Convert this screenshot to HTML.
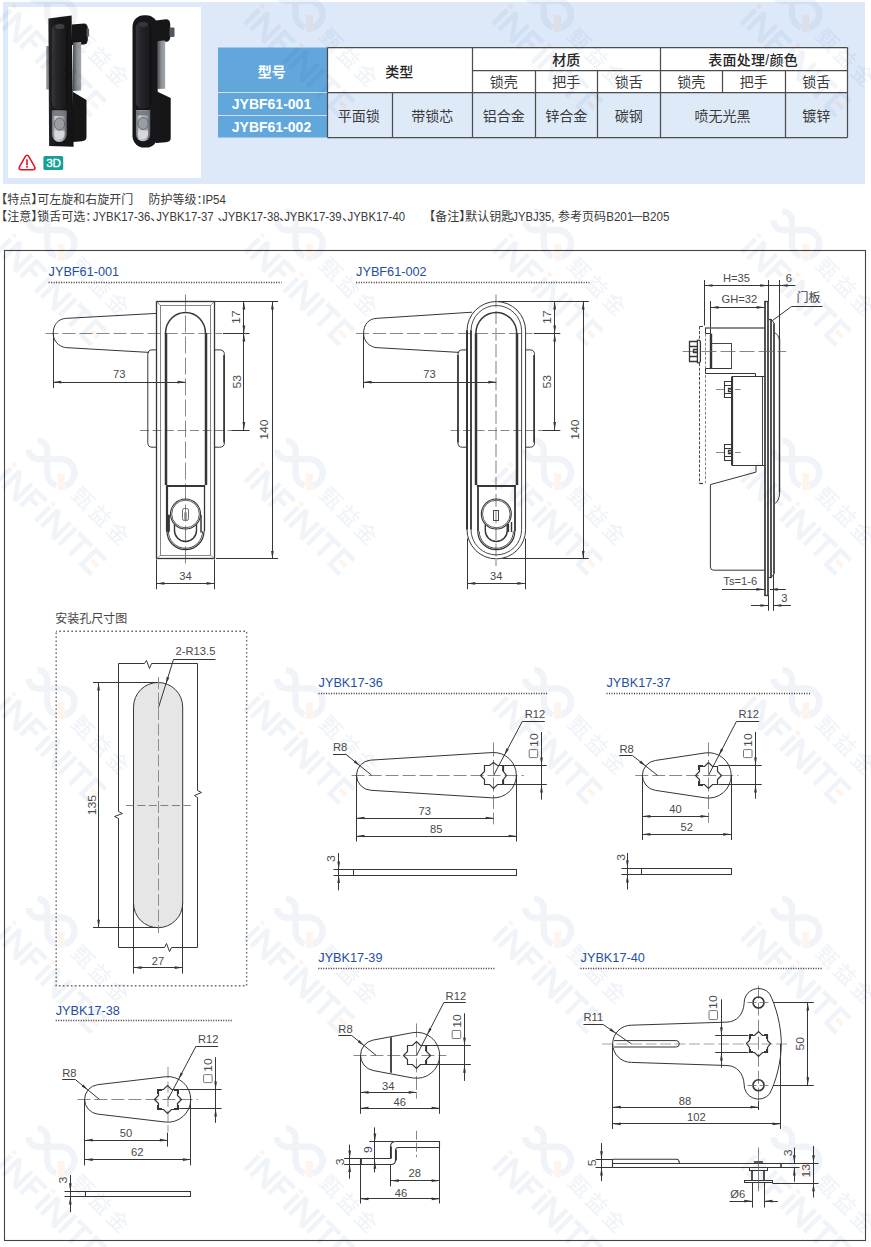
<!DOCTYPE html>
<html lang="zh"><head><meta charset="utf-8"><title>JYBF61</title>
<style>html,body{margin:0;padding:0;background:#fff}body{width:871px;height:1247px;overflow:hidden;font-family:"Liberation Sans","Noto Sans CJK SC",sans-serif}svg{display:block}svg text{font-family:"Liberation Sans","Noto Sans CJK SC",sans-serif}</style>
</head><body>
<svg width="871" height="1247" viewBox="0 0 871 1247">
<defs><filter id="bl" x="-5%" y="-5%" width="110%" height="110%"><feGaussianBlur stdDeviation="0.45"/></filter><linearGradient id="hd" x1="0" x2="1" y1="0" y2="0"><stop offset="0" stop-color="#37373c"/><stop offset="0.35" stop-color="#26262a"/><stop offset="1" stop-color="#161618"/></linearGradient><linearGradient id="bd" x1="0" x2="1" y1="0" y2="0"><stop offset="0" stop-color="#242428"/><stop offset="0.3" stop-color="#18181b"/><stop offset="1" stop-color="#111113"/></linearGradient><linearGradient id="sv" x1="0" x2="1" y1="0" y2="0"><stop offset="0" stop-color="#6b6f74"/><stop offset="0.25" stop-color="#c9ccd0"/><stop offset="0.7" stop-color="#a9adb2"/><stop offset="1" stop-color="#5c6066"/></linearGradient><linearGradient id="mt" x1="0" x2="1" y1="0" y2="0"><stop offset="0" stop-color="#4a4e52"/><stop offset="0.5" stop-color="#8d9196"/><stop offset="1" stop-color="#a4a8ac"/></linearGradient><g id="wm"><g transform="rotate(45)"><path d="M1.9 0V-20.2M10.34 0V-24L27.75 0V-24M35.66 0V-22.1H50.11M35.66 -12.5H46.95M56.97 0V-20.2M64.88 0V-24L82.29 0V-24M90.2 0V-24M95.48 -22.1H114.47M104.97 -22.1V0M133.98 -22.1H120.06V-1.9H133.98" fill="none" stroke="#6488c0" stroke-width="4.5" stroke-linejoin="miter" stroke-miterlimit="1.8"/><path d="M1.9 -22.8V-26.6M56.97 -22.8V-26.6M123.96 -12H132.93" fill="none" stroke="#f08a4b" stroke-width="4.5"/><text x="63.5" y="-41.8" font-size="21.5" font-weight="500" letter-spacing="3.2" fill="#6488c0" font-family="'Liberation Sans','Noto Sans CJK SC',sans-serif">甄益金</text></g><g transform="translate(65.5 -8.25)"><path d="M-23.2 -32.1A9.6 9.6 0 0 1 -13.6 -22.5V0A13.6 13.6 0 0 0 -4.6 12.8M-32.1 -23.2A9.6 9.6 0 0 0 -22.5 -13.6H0A13.6 13.6 0 0 1 3.7 13.1" fill="none" stroke="#6488c0" stroke-width="6.4"/><rect x="-3.2" y="0.5" width="6.9" height="16.6" fill="#f08a4b"/></g></g></defs>
<rect x="3" y="2" width="862" height="182" fill="#dde9f8"/>
<rect x="8" y="7" width="193" height="171" fill="#fff"/>
<g filter="url(#bl)">
<path d="M72 24.5L84 23.5Q87.5 23.5 87.8 28V40Q87.5 44 84 44.5L72 45Z" fill="#161618"/>
<rect x="86.5" y="28.5" width="2.6" height="8" fill="#5a6068"/>
<path d="M73 42.5L81.2 42V90.5L73 91Z" fill="url(#mt)"/>
<rect x="46.3" y="46" width="2.6" height="43.5" fill="#8a8d90"/>
<path d="M73 92L86.5 100V137Q86.5 141 82 141.2L73 142Z" fill="#141416"/>
<path d="M48.4 18.6L71.6 15.6L73.6 146.7L49.1 146Z" fill="url(#bd)"/>
<rect x="51.2" y="22.7" width="16.2" height="87.4" rx="8" fill="url(#hd)" stroke="#101012" stroke-width="0.7"/><ellipse cx="60" cy="26.5" rx="4.5" ry="2.6" fill="#4a4a4f" opacity="0.8"/>
<path d="M51.9 110.6H66.8V134.5A7.4 7.4 0 0 1 51.9 134.5Z" fill="url(#sv)"/><rect x="52.6" y="111" width="13.5" height="5" fill="#6e7276" opacity="0.85"/>
<ellipse cx="59.4" cy="124" rx="5.2" ry="6" fill="#9a9da1" stroke="#5a5d61" stroke-width="0.8"/>
<path d="M54.3 131H64.5V134.5A5.1 5.1 0 0 1 54.3 134.5Z" fill="#d5d8db"/>
<path d="M156 20.5L166 19.3Q170 19.5 170.2 24V37.5Q170 41.5 166 41.8L156 42Z" fill="#161618"/>
<rect x="169.5" y="27.5" width="5" height="9.5" rx="1" fill="#50565e"/>
<path d="M157.5 41L165.2 40.6V88.8L157.5 89Z" fill="url(#mt)"/>
<path d="M156 91L170.7 98V138Q170.7 142 166 142.2L156 143Z" fill="#141416"/>
<rect x="132.5" y="15.2" width="25.2" height="132.3" rx="11.5" fill="#19191c"/>
<rect x="135.2" y="20.7" width="15.7" height="88.8" rx="7.6" fill="url(#hd)" stroke="#0c0c0e" stroke-width="0.7"/><ellipse cx="143.5" cy="24.5" rx="4.5" ry="2.4" fill="#3c3c40" opacity="0.8"/>
<path d="M135.9 110H150.2V134.2A7.1 7.1 0 0 1 135.9 134.2Z" fill="url(#sv)"/><rect x="136.6" y="110.4" width="13" height="5" fill="#6e7276" opacity="0.85"/>
<ellipse cx="143" cy="123.5" rx="5.2" ry="6" fill="#9a9da1" stroke="#5a5d61" stroke-width="0.8"/>
<path d="M138 130.5H148V134.2A5 5 0 0 1 138 134.2Z" fill="#d5d8db"/>
</g>
<path d="M25.07 156.87Q27.05 153.4 29.03 156.87L34.42 166.33Q36.4 169.8 32.4 169.8L21.7 169.8Q17.7 169.8 19.68 166.33Z" fill="#fff" stroke="#e60f1e" stroke-width="1.5"/>
<rect x="26.2" y="159.2" width="1.6" height="6" rx="0.5" fill="#e60f1e"/><circle cx="27" cy="166.7" r="0.95" fill="#e60f1e"/>
<rect x="43.4" y="156" width="19.8" height="13.9" rx="1.6" fill="#17a097"/>
<text x="53.4" y="167.3" font-size="11.7" text-anchor="middle" fill="#fff" stroke="#fff" stroke-width="0.35" letter-spacing="-0.2">3D</text>
<rect x="218" y="47.5" width="109.5" height="90" fill="#61a7dc"/>
<rect x="327.5" y="47.5" width="520" height="45" fill="#fff"/>
<rect x="327.5" y="92.5" width="520" height="45" fill="#dfeaf9"/>
<line x1="218" y1="92.5" x2="327.5" y2="92.5" stroke="#cfe2f4" stroke-width="1.2"/>
<line x1="218" y1="115.5" x2="327.5" y2="115.5" stroke="#cfe2f4" stroke-width="1.2"/>
<line x1="327.5" y1="47.5" x2="847.5" y2="47.5" stroke="#4d4d4d" stroke-width="1.25"/>
<line x1="327.5" y1="137.5" x2="847.5" y2="137.5" stroke="#4d4d4d" stroke-width="1.25"/>
<line x1="327.5" y1="92.5" x2="847.5" y2="92.5" stroke="#4d4d4d" stroke-width="1.25"/>
<line x1="472.5" y1="70.5" x2="847.5" y2="70.5" stroke="#4d4d4d" stroke-width="1.25"/>
<line x1="327.5" y1="47.5" x2="327.5" y2="137.5" stroke="#4d4d4d" stroke-width="1.25"/>
<line x1="847.5" y1="47.5" x2="847.5" y2="137.5" stroke="#4d4d4d" stroke-width="1.25"/>
<line x1="472.5" y1="47.5" x2="472.5" y2="137.5" stroke="#4d4d4d" stroke-width="1.25"/>
<line x1="660.5" y1="47.5" x2="660.5" y2="137.5" stroke="#4d4d4d" stroke-width="1.25"/>
<line x1="392.5" y1="92.5" x2="392.5" y2="137.5" stroke="#4d4d4d" stroke-width="1.25"/>
<line x1="535.5" y1="70" x2="535.5" y2="92.5" stroke="#4d4d4d" stroke-width="1.25"/>
<line x1="597.5" y1="70" x2="597.5" y2="92.5" stroke="#4d4d4d" stroke-width="1.25"/>
<line x1="722.5" y1="70" x2="722.5" y2="92.5" stroke="#4d4d4d" stroke-width="1.25"/>
<line x1="785.5" y1="70" x2="785.5" y2="92.5" stroke="#4d4d4d" stroke-width="1.25"/>
<line x1="535.5" y1="92.5" x2="535.5" y2="137.5" stroke="#4d4d4d" stroke-width="1.25"/>
<line x1="597.5" y1="92.5" x2="597.5" y2="137.5" stroke="#4d4d4d" stroke-width="1.25"/>
<line x1="785.5" y1="92.5" x2="785.5" y2="137.5" stroke="#4d4d4d" stroke-width="1.25"/>
<text x="257.8" y="76.5" font-size="14" font-weight="bold" fill="#fff">型号</text>
<text x="271.5" y="109.01" font-size="14" text-anchor="middle" fill="#fff" font-weight="bold">JYBF61-001</text>
<text x="271.5" y="132.21" font-size="14" text-anchor="middle" fill="#fff" font-weight="bold">JYBF61-002</text>
<text x="385.2" y="76.5" font-size="14" font-weight="500" fill="#262626">类型</text>
<text x="552.2" y="65.2" font-size="14" font-weight="500" fill="#262626">材质</text>
<text x="708.27" y="65.2" font-size="14" font-weight="500" fill="#262626" textLength="89.5">表面处理/颜色</text>
<text x="489.7" y="86.9" font-size="14" fill="#3a3a3a">锁壳</text>
<text x="552.2" y="86.9" font-size="14" fill="#3a3a3a">把手</text>
<text x="614.7" y="86.9" font-size="14" fill="#3a3a3a">锁舌</text>
<text x="677.2" y="86.9" font-size="14" fill="#3a3a3a">锁壳</text>
<text x="739.7" y="86.9" font-size="14" fill="#3a3a3a">把手</text>
<text x="802.2" y="86.9" font-size="14" fill="#3a3a3a">锁舌</text>
<text x="337.7" y="121.4" font-size="14" fill="#3a3a3a">平面锁</text>
<text x="411.2" y="121.4" font-size="14" fill="#3a3a3a">带锁芯</text>
<text x="482.7" y="121.4" font-size="14" fill="#3a3a3a">铝合金</text>
<text x="545.2" y="121.4" font-size="14" fill="#3a3a3a">锌合金</text>
<text x="614.7" y="121.4" font-size="14" fill="#3a3a3a">碳钢</text>
<text x="694.5" y="121.4" font-size="14" fill="#3a3a3a">喷无光黑</text>
<text x="802.2" y="121.4" font-size="14" fill="#3a3a3a">镀锌</text>
<text y="204.2" font-size="12" fill="#3a3a3a"><tspan x="-4.8">【特点】</tspan><tspan x="37.2">可左旋和右旋开门</tspan></text>
<text x="148.39" y="204.2" font-size="12" fill="#3a3a3a">防护等级：</text>
<text x="202.27" y="204.2" font-size="12" fill="#3a3a3a" textLength="23.6" lengthAdjust="spacingAndGlyphs">IP54</text>
<text y="221" font-size="12" fill="#3a3a3a"><tspan x="-4.8">【注意】</tspan><tspan x="37.2">锁舌可选：</tspan></text>
<text x="92.85" y="221" font-size="12" fill="#3a3a3a" textLength="57.5" lengthAdjust="spacingAndGlyphs">JYBK17-36</text>
<text x="156.15" y="221" font-size="12" fill="#3a3a3a" textLength="57.5" lengthAdjust="spacingAndGlyphs">JYBK17-37</text>
<text x="222.05" y="221" font-size="12" fill="#3a3a3a" textLength="57.5" lengthAdjust="spacingAndGlyphs">JYBK17-38</text>
<text x="284.15" y="221" font-size="12" fill="#3a3a3a" textLength="57.5" lengthAdjust="spacingAndGlyphs">JYBK17-39</text>
<text x="347.55" y="221" font-size="12" fill="#3a3a3a" textLength="57.5" lengthAdjust="spacingAndGlyphs">JYBK17-40</text>
<text x="150.35" y="221" font-size="12" fill="#3a3a3a">、</text>
<text x="217.55" y="221" font-size="12" fill="#3a3a3a">、</text>
<text x="278.95" y="221" font-size="12" fill="#3a3a3a">、</text>
<text x="341.95" y="221" font-size="12" fill="#3a3a3a">、</text>
<text y="221" font-size="12" fill="#3a3a3a"><tspan x="423.19">【备注】</tspan><tspan x="465.19">默认钥匙</tspan></text>
<text x="512.35" y="221" font-size="12" fill="#3a3a3a" textLength="42" lengthAdjust="spacingAndGlyphs">JYBJ35,</text>
<text x="558.09" y="221" font-size="12" fill="#3a3a3a">参考页码</text>
<text x="606.17" y="221" font-size="12" fill="#3a3a3a" textLength="27.1" lengthAdjust="spacingAndGlyphs">B201</text>
<rect x="631.8" y="216.1" width="10.7" height="0.9" fill="#3a3a3a"/>
<text x="642.27" y="221" font-size="12" fill="#3a3a3a" textLength="27.1" lengthAdjust="spacingAndGlyphs">B205</text>
<rect x="4.5" y="250.5" width="861" height="990" fill="none" stroke="#444" stroke-width="1.1"/>
<text x="48.6" y="276.15" font-size="12.7" text-anchor="start" fill="#1f4fa0">JYBF61-001</text>
<line x1="48.6" y1="282.5" x2="281.7" y2="282.5" stroke="#3a3a3a" stroke-width="1.3" stroke-dasharray="1.05 1.45"/>
<line x1="45.5" y1="333.5" x2="222" y2="333.5" stroke="#6a6a6a" stroke-width="0.8" stroke-dasharray="13 4"/>
<line x1="185.5" y1="294.5" x2="185.5" y2="566" stroke="#6a6a6a" stroke-width="0.8" stroke-dasharray="17 4"/>
<line x1="140" y1="430.5" x2="231.5" y2="430.5" stroke="#6a6a6a" stroke-width="0.8" stroke-dasharray="9 3.5"/>
<path d="M156.4 349.9H152Q147.8 349.9 147.8 354.6V442.6Q147.8 447.2 152 447.2H156.4" fill="none" stroke="#363636" stroke-width="1"/>
<path d="M214.5 349.9H219.7Q224.4 349.9 224.4 354.6V442.6Q224.4 447.2 219.7 447.2H214.5" fill="none" stroke="#363636" stroke-width="1"/>
<line x1="224" y1="355" x2="224" y2="442.5" stroke="#363636" stroke-width="1.6"/>
<rect x="156.5" y="301.5" width="58" height="257" fill="none" stroke="#363636" stroke-width="1.3"/>
<rect x="160.5" y="305.5" width="50" height="250" fill="none" stroke="#7a7a7a" stroke-width="0.9"/>
<line x1="156.4" y1="301.5" x2="160.5" y2="305.3" stroke="#7a7a7a" stroke-width="0.8"/>
<line x1="156.4" y1="558.9" x2="160.5" y2="555.1" stroke="#7a7a7a" stroke-width="0.8"/>
<line x1="214.6" y1="301.5" x2="210.5" y2="305.3" stroke="#7a7a7a" stroke-width="0.8"/>
<line x1="214.6" y1="558.9" x2="210.5" y2="555.1" stroke="#7a7a7a" stroke-width="0.8"/>
<path d="M165.5 333.4A20 21 0 0 1 205.5 333.4" fill="none" stroke="#363636" stroke-width="1.5"/>
<line x1="166" y1="333.2" x2="166" y2="485.1" stroke="#363636" stroke-width="2.5"/>
<line x1="206" y1="333.2" x2="206" y2="485.1" stroke="#363636" stroke-width="2.5"/>
<line x1="166.1" y1="486" x2="205.1" y2="486" stroke="#363636" stroke-width="2"/>
<line x1="167" y1="486" x2="167" y2="531.2" stroke="#363636" stroke-width="2.2"/>
<line x1="204.5" y1="486" x2="204.5" y2="531.2" stroke="#363636" stroke-width="1.3"/>
<line x1="168" y1="514.7" x2="168" y2="531.8" stroke="#363636" stroke-width="3.8"/>
<line x1="201" y1="515" x2="201" y2="532.5" stroke="#363636" stroke-width="1.5"/>
<path d="M167 531.2A18.5 18.5 0 0 0 204 531.2" fill="none" stroke="#363636" stroke-width="1.2"/>
<path d="M168.4 531.2A17.1 17.1 0 0 0 202.6 531.2" fill="none" stroke="#363636" stroke-width="0.9"/>
<path d="M174.5 524.4V530.5A11 11 0 0 0 196.5 530.5V524.4" fill="none" stroke="#363636" stroke-width="1.4"/>
<circle cx="185.5" cy="514" r="15" fill="none" stroke="#363636" stroke-width="1.1"/>
<circle cx="185.5" cy="514" r="13.8" fill="none" stroke="#363636" stroke-width="0.8"/>
<rect x="182.5" y="508.5" width="6" height="12" fill="none" stroke="#5a5a5a" stroke-width="0.9" rx="1.8"/>
<rect x="184.5" y="512.5" width="2" height="8" fill="none" stroke="#7a7a7a" stroke-width="0.7" rx="0.5"/>
<path d="M156.4 313.4 L65.7 318.4 C58.7 318.9 53.2 324 53.2 333.4 C53.2 341 58.7 346.6 65.7 347.6 L149 352.4" fill="none" stroke="#363636" stroke-width="1"/>
<line x1="53.5" y1="333.4" x2="53.5" y2="388" stroke="#363636" stroke-width="1"/>
<line x1="53.2" y1="382.5" x2="185.5" y2="382.5" stroke="#363636" stroke-width="1"/>
<path d="M53.2 382.1L61.2 380.75L61.2 383.45Z" fill="#363636"/>
<path d="M185.5 382.1L177.5 383.45L177.5 380.75Z" fill="#363636"/>
<text x="119.2" y="378.41" font-size="11.2" text-anchor="middle" fill="#4a4a4a">73</text>
<line x1="223" y1="333.5" x2="249.5" y2="333.5" stroke="#363636" stroke-width="1"/>
<line x1="231.5" y1="430.5" x2="249.5" y2="430.5" stroke="#363636" stroke-width="1"/>
<line x1="243.5" y1="301.5" x2="243.5" y2="333.4" stroke="#363636" stroke-width="1"/>
<path d="M243.9 301.5L245.25 309.5L242.55 309.5Z" fill="#363636"/>
<path d="M243.9 333.4L242.55 325.4L245.25 325.4Z" fill="#363636"/>
<text x="0" y="4.01" font-size="11.2" text-anchor="middle" fill="#4a4a4a" transform="translate(235.7 317.3) rotate(-90) scale(1.09 1.045)">17</text>
<line x1="243.5" y1="333.4" x2="243.5" y2="430.1" stroke="#363636" stroke-width="1"/>
<path d="M243.9 333.4L245.25 341.4L242.55 341.4Z" fill="#363636"/>
<path d="M243.9 430.1L242.55 422.1L245.25 422.1Z" fill="#363636"/>
<text x="0" y="4.01" font-size="11.2" text-anchor="middle" fill="#4a4a4a" transform="translate(236.4 381.7) rotate(-90) scale(1.09 1.045)">53</text>
<line x1="214.6" y1="301.5" x2="278" y2="301.5" stroke="#363636" stroke-width="1"/>
<line x1="216" y1="558.5" x2="278" y2="558.5" stroke="#363636" stroke-width="1"/>
<line x1="272.5" y1="301.5" x2="272.5" y2="558.9" stroke="#363636" stroke-width="1"/>
<path d="M272.4 301.5L273.75 309.5L271.05 309.5Z" fill="#363636"/>
<path d="M272.4 558.9L271.05 550.9L273.75 550.9Z" fill="#363636"/>
<text x="0" y="4.01" font-size="11.2" text-anchor="middle" fill="#4a4a4a" transform="translate(263.9 429.6) rotate(-90) scale(1.09 1.045)">140</text>
<line x1="156.5" y1="559.5" x2="156.5" y2="589.3" stroke="#363636" stroke-width="1"/>
<line x1="214.5" y1="559.5" x2="214.5" y2="589.3" stroke="#363636" stroke-width="1"/>
<line x1="156.4" y1="583.5" x2="214.6" y2="583.5" stroke="#363636" stroke-width="1"/>
<path d="M156.4 583.4L164.4 582.05L164.4 584.75Z" fill="#363636"/>
<path d="M214.6 583.4L206.6 584.75L206.6 582.05Z" fill="#363636"/>
<text x="185.5" y="579.71" font-size="11.2" text-anchor="middle" fill="#4a4a4a">34</text>
<text x="356.1" y="276.15" font-size="12.7" text-anchor="start" fill="#1f4fa0">JYBF61-002</text>
<line x1="356.1" y1="282.5" x2="589.5" y2="282.5" stroke="#3a3a3a" stroke-width="1.3" stroke-dasharray="1.05 1.45"/>
<line x1="356" y1="333.5" x2="532.5" y2="333.5" stroke="#6a6a6a" stroke-width="0.8" stroke-dasharray="13 4"/>
<line x1="496" y1="294.5" x2="496" y2="566" stroke="#aaaaaa" stroke-width="1.5" stroke-dasharray="13 3.6"/>
<line x1="450.5" y1="430.5" x2="542" y2="430.5" stroke="#6a6a6a" stroke-width="0.8" stroke-dasharray="9 3.5"/>
<path d="M467 349.9H462.3Q457.9 349.9 457.9 354.6V442.6Q457.9 447.2 462.3 447.2H467" fill="none" stroke="#363636" stroke-width="1"/>
<line x1="458" y1="355" x2="458" y2="442.5" stroke="#363636" stroke-width="1.6"/>
<path d="M525.6 349.9H530.3Q534.5 349.9 534.5 354.6V442.6Q534.5 447.2 530.3 447.2H525.6" fill="none" stroke="#363636" stroke-width="1"/>
<line x1="534" y1="355" x2="534" y2="442.5" stroke="#363636" stroke-width="1.6"/>
<path d="M467 529.6V330.8A29.3 29.3 0 0 1 525.6 330.8V529.6A29.3 29.3 0 0 1 467 529.6Z" fill="none" stroke="#363636" stroke-width="1"/>
<path d="M471 529.6V330.8A25.3 25.3 0 0 1 521.6 330.8V529.6A25.3 25.3 0 0 1 471 529.6Z" fill="none" stroke="#363636" stroke-width="0.9"/>
<line x1="467" y1="330.2" x2="467" y2="529.6" stroke="#363636" stroke-width="2"/>
<line x1="471" y1="330.2" x2="471" y2="529.6" stroke="#363636" stroke-width="1.7"/>
<path d="M475.9 333.4A20.4 21 0 0 1 516.7 333.4" fill="none" stroke="#363636" stroke-width="1.5"/>
<line x1="476" y1="333.2" x2="476" y2="485.1" stroke="#363636" stroke-width="2.5"/>
<line x1="517" y1="333.2" x2="517" y2="485.1" stroke="#363636" stroke-width="2.5"/>
<line x1="476.9" y1="486" x2="515.9" y2="486" stroke="#363636" stroke-width="2"/>
<line x1="478" y1="486" x2="478" y2="531.2" stroke="#363636" stroke-width="1.8"/>
<line x1="515" y1="486" x2="515" y2="531.2" stroke="#363636" stroke-width="1.8"/>
<line x1="508" y1="524" x2="508" y2="532" stroke="#363636" stroke-width="2.2"/>
<line x1="511.5" y1="522" x2="511.5" y2="532" stroke="#363636" stroke-width="1.4"/>
<path d="M477.8 531.2A18.5 18.5 0 0 0 514.8 531.2" fill="none" stroke="#363636" stroke-width="1.2"/>
<path d="M479.2 531.2A17.1 17.1 0 0 0 513.4 531.2" fill="none" stroke="#363636" stroke-width="0.9"/>
<path d="M485.3 524.4V530.5A11 11 0 0 0 507.3 530.5V524.4" fill="none" stroke="#363636" stroke-width="1.4"/>
<circle cx="496.3" cy="514" r="15" fill="none" stroke="#363636" stroke-width="1.1"/>
<circle cx="496.3" cy="514" r="13.8" fill="none" stroke="#363636" stroke-width="0.8"/>
<rect x="493.5" y="510.5" width="5" height="10" fill="none" stroke="#4a4a4a" stroke-width="1"/>
<path d="M472.3 312.2 L376.1 318.4 C369.1 318.9 363.6 324 363.6 333.4 C363.6 341 369.1 346.6 376.1 347.6 L459.1 352.4" fill="none" stroke="#363636" stroke-width="1"/>
<line x1="363.5" y1="333.4" x2="363.5" y2="388" stroke="#363636" stroke-width="1"/>
<line x1="363.6" y1="382.5" x2="496.3" y2="382.5" stroke="#363636" stroke-width="1"/>
<path d="M363.6 382.1L371.6 380.75L371.6 383.45Z" fill="#363636"/>
<path d="M496.3 382.1L488.3 383.45L488.3 380.75Z" fill="#363636"/>
<text x="429.6" y="378.41" font-size="11.2" text-anchor="middle" fill="#4a4a4a">73</text>
<line x1="533.8" y1="333.5" x2="560.3" y2="333.5" stroke="#363636" stroke-width="1"/>
<line x1="542.3" y1="430.5" x2="560.3" y2="430.5" stroke="#363636" stroke-width="1"/>
<line x1="554.5" y1="301.5" x2="554.5" y2="333.4" stroke="#363636" stroke-width="1"/>
<path d="M554.7 301.5L556.05 309.5L553.35 309.5Z" fill="#363636"/>
<path d="M554.7 333.4L553.35 325.4L556.05 325.4Z" fill="#363636"/>
<text x="0" y="4.01" font-size="11.2" text-anchor="middle" fill="#4a4a4a" transform="translate(546.5 317.3) rotate(-90) scale(1.09 1.045)">17</text>
<line x1="554.5" y1="333.4" x2="554.5" y2="430.1" stroke="#363636" stroke-width="1"/>
<path d="M554.7 333.4L556.05 341.4L553.35 341.4Z" fill="#363636"/>
<path d="M554.7 430.1L553.35 422.1L556.05 422.1Z" fill="#363636"/>
<text x="0" y="4.01" font-size="11.2" text-anchor="middle" fill="#4a4a4a" transform="translate(547.2 381.7) rotate(-90) scale(1.09 1.045)">53</text>
<line x1="498.3" y1="301.5" x2="588.8" y2="301.5" stroke="#363636" stroke-width="1"/>
<line x1="502.3" y1="558.5" x2="588.8" y2="558.5" stroke="#363636" stroke-width="1"/>
<line x1="583.5" y1="301.5" x2="583.5" y2="558.9" stroke="#363636" stroke-width="1"/>
<path d="M583.2 301.5L584.55 309.5L581.85 309.5Z" fill="#363636"/>
<path d="M583.2 558.9L581.85 550.9L584.55 550.9Z" fill="#363636"/>
<text x="0" y="4.01" font-size="11.2" text-anchor="middle" fill="#4a4a4a" transform="translate(574.7 429.6) rotate(-90) scale(1.09 1.045)">140</text>
<line x1="467.5" y1="538.5" x2="467.5" y2="589.3" stroke="#363636" stroke-width="1"/>
<line x1="525.5" y1="538.5" x2="525.5" y2="589.3" stroke="#363636" stroke-width="1"/>
<line x1="467.2" y1="583.5" x2="525.4" y2="583.5" stroke="#363636" stroke-width="1"/>
<path d="M467.2 583.4L475.2 582.05L475.2 584.75Z" fill="#363636"/>
<path d="M525.4 583.4L517.4 584.75L517.4 582.05Z" fill="#363636"/>
<text x="496.3" y="579.71" font-size="11.2" text-anchor="middle" fill="#4a4a4a">34</text>
<text x="736.5" y="281.51" font-size="11.2" text-anchor="middle" fill="#4a4a4a">H=35</text>
<line x1="704.5" y1="280" x2="704.5" y2="325.4" stroke="#363636" stroke-width="1"/>
<line x1="768.5" y1="280" x2="768.5" y2="301" stroke="#363636" stroke-width="1"/>
<line x1="704.5" y1="285.5" x2="795.4" y2="285.5" stroke="#363636" stroke-width="1"/>
<path d="M704.5 285.5L712.5 284.15L712.5 286.85Z" fill="#363636"/>
<path d="M768.2 285.5L760.2 286.85L760.2 284.15Z" fill="#363636"/>
<path d="M768.2 285.5L768.2 284.15L768.2 286.85Z" fill="#363636"/>
<text x="788.9" y="281.51" font-size="11.2" text-anchor="middle" fill="#4a4a4a">6</text>
<line x1="779.5" y1="280" x2="779.5" y2="339" stroke="#363636" stroke-width="1"/>
<path d="M779.6 285.5L787.6 284.15L787.6 286.85Z" fill="#363636"/>
<text x="739.4" y="303.41" font-size="11.2" text-anchor="middle" fill="#4a4a4a">GH=32</text>
<line x1="710.5" y1="301" x2="710.5" y2="333.6" stroke="#363636" stroke-width="1"/>
<line x1="710.5" y1="307.5" x2="764.6" y2="307.5" stroke="#363636" stroke-width="1"/>
<path d="M710.5 307.4L718.5 306.05L718.5 308.75Z" fill="#363636"/>
<path d="M764.6 307.4L756.6 308.75L756.6 306.05Z" fill="#363636"/>
<text x="796.5" y="302.2" font-size="12" fill="#444">门板</text>
<path d="M822.5 306.5H791.5L772.5 320.5" fill="none" stroke="#363636" stroke-width="1"/>
<line x1="699.5" y1="326.4" x2="699.5" y2="483.3" stroke="#363636" stroke-width="0.9" stroke-dasharray="3 1.6"/>
<line x1="705.5" y1="329" x2="705.5" y2="483.3" stroke="#777" stroke-width="0.9" stroke-dasharray="3 1.6"/>
<line x1="699.3" y1="326.5" x2="703" y2="326.5" stroke="#363636" stroke-width="0.9"/>
<line x1="699.3" y1="483.5" x2="703" y2="483.5" stroke="#363636" stroke-width="1.2"/>
<line x1="705.6" y1="328" x2="764.6" y2="328" stroke="#666" stroke-width="1.5"/>
<path d="M705.5 327.5V333.5H710.5" fill="none" stroke="#363636" stroke-width="1"/>
<line x1="711" y1="333.6" x2="711" y2="368.7" stroke="#363636" stroke-width="2.4"/>
<rect x="711.5" y="343.5" width="20" height="25" fill="none" stroke="#363636" stroke-width="0.9"/>
<path d="M731.5 368.5H705.5V373.5H755.5V376.5" fill="none" stroke="#363636" stroke-width="1"/>
<path d="M764.5 376.5H732.5V465.5H764.5" fill="none" stroke="#363636" stroke-width="1.2"/>
<line x1="732" y1="376.6" x2="732" y2="465.2" stroke="#363636" stroke-width="2"/>
<line x1="762.5" y1="376.6" x2="762.5" y2="465.2" stroke="#363636" stroke-width="0.9"/>
<path d="M756 465.2V472.1L710.4 484.6V567A3.2 3.2 0 0 0 713.6 570.2H764.3" fill="none" stroke="#363636" stroke-width="1"/>
<line x1="765" y1="301.4" x2="765" y2="595.3" stroke="#363636" stroke-width="1.7"/>
<line x1="768" y1="301.4" x2="768" y2="595.3" stroke="#363636" stroke-width="1.7"/>
<line x1="764.15" y1="301.5" x2="768.9" y2="301.5" stroke="#363636" stroke-width="1.3"/>
<line x1="764.15" y1="595.5" x2="768.9" y2="595.5" stroke="#363636" stroke-width="1.3"/>
<line x1="771" y1="319.3" x2="771" y2="577.2" stroke="#363636" stroke-width="1.7"/>
<line x1="769" y1="319.5" x2="771.75" y2="319.5" stroke="#363636" stroke-width="1.2"/>
<line x1="768.9" y1="577.5" x2="771.75" y2="577.5" stroke="#363636" stroke-width="1.2"/>
<line x1="774" y1="323.5" x2="774" y2="573.8" stroke="#363636" stroke-width="1.7"/>
<line x1="771.5" y1="319.5" x2="774.4" y2="323.7" stroke="#363636" stroke-width="1"/>
<line x1="774.4" y1="573.6" x2="771.5" y2="577" stroke="#363636" stroke-width="1"/>
<line x1="779.5" y1="338.5" x2="779.5" y2="492.5" stroke="#363636" stroke-width="1.45"/>
<path d="M774.5 332.4Q778.6 334.5 779.4 339.5" fill="none" stroke="#363636" stroke-width="0.9"/>
<path d="M779.6 492.5Q779.6 500 775 503.7" fill="none" stroke="#363636" stroke-width="1"/>
<line x1="682.5" y1="351.5" x2="786.2" y2="351.5" stroke="#6a6a6a" stroke-width="0.8" stroke-dasharray="15 4"/>
<path d="M697.5 341.5H689.5V361.5H697.5M689.5 346.5H697.5M689.5 356.5H697.5" fill="none" stroke="#363636" stroke-width="1.3"/>
<path d="M697.4 340.3Q700.6 339.3 700.4 343V360Q700.6 363.6 697.4 362.6Z" fill="#fff" stroke="#363636" stroke-width="1.3"/>
<path d="M697.5 349.5H693.5V352.5H697.5" fill="none" stroke="#363636" stroke-width="1.3"/>
<path d="M731.5 381.5H724.5V397.5H731.5M724.5 385.5H731.5M724.5 393.5H731.5" fill="none" stroke="#363636" stroke-width="1.1"/>
<path d="M731.5 388.5H728.5V391.5H731.5" fill="none" stroke="#363636" stroke-width="1.3"/>
<line x1="716" y1="389.5" x2="740.7" y2="389.5" stroke="#666" stroke-width="0.8" stroke-dasharray="8 4 3 4"/>
<path d="M731.5 444.5H724.5V460.5H731.5M724.5 448.5H731.5M724.5 456.5H731.5" fill="none" stroke="#363636" stroke-width="1.1"/>
<path d="M731.5 450.5H728.5V453.5H731.5" fill="none" stroke="#363636" stroke-width="1.3"/>
<line x1="716" y1="452.5" x2="740.7" y2="452.5" stroke="#666" stroke-width="0.8" stroke-dasharray="8 4 3 4"/>
<text x="740.3" y="585.31" font-size="11.2" text-anchor="middle" fill="#4a4a4a">Ts=1-6</text>
<line x1="722" y1="589.5" x2="764.6" y2="589.5" stroke="#363636" stroke-width="1"/>
<path d="M764.3 589.4L756.3 590.75L756.3 588.05Z" fill="#363636"/>
<line x1="770" y1="589.5" x2="785.9" y2="589.5" stroke="#363636" stroke-width="1"/>
<path d="M769.8 589.4L777.8 588.05L777.8 590.75Z" fill="#363636"/>
<text x="784.3" y="601.61" font-size="11.2" text-anchor="middle" fill="#4a4a4a">3</text>
<line x1="768.5" y1="595" x2="768.5" y2="610.8" stroke="#363636" stroke-width="1"/>
<line x1="773.5" y1="574" x2="773.5" y2="610.8" stroke="#363636" stroke-width="1"/>
<line x1="751" y1="605.5" x2="768.4" y2="605.5" stroke="#363636" stroke-width="1"/>
<path d="M768.4 605.5L760.4 606.85L760.4 604.15Z" fill="#363636"/>
<line x1="773.4" y1="605.5" x2="790.9" y2="605.5" stroke="#363636" stroke-width="1"/>
<path d="M773.4 605.5L781.4 604.15L781.4 606.85Z" fill="#363636"/>
<text x="55.2" y="622.9" font-size="12" fill="#444">安装孔尺寸图</text>
<rect x="56.2" y="631.2" width="190.4" height="354.6" fill="none" stroke="#6e6e6e" stroke-width="1.5" stroke-dasharray="1.7 2.3" stroke-dashoffset="0.9"/>
<path d="M133.5 707.1A24.6 24.6 0 0 1 182.7 707.1V903.1A24.6 24.6 0 0 1 133.5 903.1Z" fill="#e6e6e6" stroke="#363636" stroke-width="1"/>
<path d="M118.5 663.5H144.5L146.5 660.5L149.5 668.5L151.5 663.5H197.5V790.5L201.5 792.5L194.5 795.5L197.5 797.5V947.5H171.5L169.5 951.5L166.5 943.5L164.5 947.5H118.5V818.5L114.5 816.5L122.5 813.5L118.5 811.5Z" fill="none" stroke="#363636" stroke-width="1"/>
<line x1="133.5" y1="903" x2="133.5" y2="973.6" stroke="#363636" stroke-width="1"/>
<line x1="182.5" y1="903" x2="182.5" y2="973.6" stroke="#363636" stroke-width="1"/>
<line x1="158.5" y1="677" x2="158.5" y2="933" stroke="#8e8e8e" stroke-width="1" stroke-dasharray="12 3.5"/>
<line x1="125.9" y1="805.5" x2="190.8" y2="805.5" stroke="#666" stroke-width="0.8" stroke-dasharray="8 3.5"/>
<line x1="93" y1="682.5" x2="158.1" y2="682.5" stroke="#363636" stroke-width="1"/>
<line x1="93" y1="927.5" x2="158.1" y2="927.5" stroke="#363636" stroke-width="1"/>
<line x1="98.5" y1="682.5" x2="98.5" y2="927.7" stroke="#363636" stroke-width="1"/>
<path d="M98.6 682.5L99.95 690.5L97.25 690.5Z" fill="#363636"/>
<path d="M98.6 927.7L97.25 919.7L99.95 919.7Z" fill="#363636"/>
<text x="0" y="4.01" font-size="11.2" text-anchor="middle" fill="#4a4a4a" transform="translate(91.3 805.2) rotate(-90) scale(1.09 1.045)">135</text>
<line x1="133.5" y1="967.5" x2="182.7" y2="967.5" stroke="#363636" stroke-width="1"/>
<path d="M133.5 967.6L141.5 966.25L141.5 968.95Z" fill="#363636"/>
<path d="M182.7 967.6L174.7 968.95L174.7 966.25Z" fill="#363636"/>
<text x="158" y="965.01" font-size="11.2" text-anchor="middle" fill="#4a4a4a">27</text>
<text x="175.6" y="655.31" font-size="11.2" text-anchor="start" fill="#4a4a4a">2-R13.5</text>
<path d="M215.5 659.5H173.5L158.5 707.5" fill="none" stroke="#363636" stroke-width="1"/>
<path d="M165.85 683.92L166.74 676.85L169.31 677.69Z" fill="#363636"/>
<text x="318.6" y="686.85" font-size="12.7" text-anchor="start" fill="#1f4fa0">JYBK17-36</text>
<line x1="318.6" y1="693.5" x2="547.7" y2="693.5" stroke="#3a3a3a" stroke-width="1.3" stroke-dasharray="1.05 1.45"/>
<line x1="351.6" y1="775.5" x2="523.8" y2="775.5" stroke="#6a6a6a" stroke-width="0.8" stroke-dasharray="13 4"/>
<line x1="493.5" y1="742.5" x2="493.5" y2="824.3" stroke="#6a6a6a" stroke-width="0.8" stroke-dasharray="14 3.5"/>
<path d="M370.66 760.13L492.29 752.54A22.7 22.7 0 1 1 492.29 797.86L370.66 790.27A15.1 15.1 0 0 1 370.66 760.13Z" fill="none" stroke="#363636" stroke-width="1"/>
<path d="M506.5 775.5L503.5 779.5L503.5 784.5L497.5 784.5L493.5 788.5L489.5 784.5L484.5 784.5L484.5 779.5L480.5 775.5L484.5 771.5L484.5 765.5L489.5 765.5L493.5 762.5L497.5 765.5L503.5 765.5L503.5 771.5Z" fill="none" stroke="#363636" stroke-width="1.2" stroke-linejoin="miter"/>
<line x1="502.9" y1="765.5" x2="546.8" y2="765.5" stroke="#363636" stroke-width="1"/>
<line x1="502.9" y1="784.5" x2="546.8" y2="784.5" stroke="#363636" stroke-width="1"/>
<line x1="503" y1="765.4" x2="503" y2="771.2" stroke="#363636" stroke-width="1.8"/>
<line x1="503" y1="779.6" x2="503" y2="784.4" stroke="#363636" stroke-width="1.8"/>
<line x1="541.5" y1="732" x2="541.5" y2="799.7" stroke="#363636" stroke-width="1"/>
<path d="M541.5 765.4L540.15 757.4L542.85 757.4Z" fill="#363636"/>
<path d="M541.5 784.4L542.85 792.4L540.15 792.4Z" fill="#363636"/>
<g transform="translate(533.4 746) rotate(-90)"><rect x="-11.6" y="-4.2" width="8" height="8.5" rx="0.8" fill="none" stroke="#6a6a6a" stroke-width="0.9"/><text x="0" y="4.01" font-size="11.2" text-anchor="middle" fill="#4a4a4a" transform="translate(5.9 0) scale(1.09 1.045)">10</text></g>
<text x="524.7" y="718.41" font-size="11.2" text-anchor="start" fill="#4a4a4a">R12</text>
<line x1="522.4" y1="721.5" x2="544.8" y2="721.5" stroke="#363636" stroke-width="1"/>
<line x1="522.4" y1="721.3" x2="493.7" y2="775.2" stroke="#363636" stroke-width="1"/>
<path d="M504.37 755.16L506.47 748.35L508.85 749.62Z" fill="#363636"/>
<text x="333" y="751.41" font-size="11.2" text-anchor="start" fill="#4a4a4a">R8</text>
<line x1="333" y1="754.5" x2="345.9" y2="754.5" stroke="#363636" stroke-width="1"/>
<line x1="345.9" y1="754.3" x2="371.6" y2="775.2" stroke="#363636" stroke-width="1"/>
<path d="M359.88 765.67L353.6 762.3L355.31 760.21Z" fill="#363636"/>
<line x1="356.5" y1="775.2" x2="356.5" y2="841.5" stroke="#363636" stroke-width="1"/>
<line x1="516.5" y1="775.2" x2="516.5" y2="841.5" stroke="#363636" stroke-width="1"/>
<line x1="356.5" y1="818.5" x2="493.7" y2="818.5" stroke="#363636" stroke-width="1"/>
<path d="M356.5 818L364.5 816.65L364.5 819.35Z" fill="#363636"/>
<path d="M493.7 818L485.7 819.35L485.7 816.65Z" fill="#363636"/>
<text x="424.8" y="814.51" font-size="11.2" text-anchor="middle" fill="#4a4a4a">73</text>
<line x1="356.5" y1="836.5" x2="516.6" y2="836.5" stroke="#363636" stroke-width="1"/>
<path d="M356.5 836L364.5 834.65L364.5 837.35Z" fill="#363636"/>
<path d="M516.6 836L508.6 837.35L508.6 834.65Z" fill="#363636"/>
<text x="436.3" y="832.61" font-size="11.2" text-anchor="middle" fill="#4a4a4a">85</text>
<rect x="353.5" y="869.5" width="163" height="6" fill="none" stroke="#363636" stroke-width="1"/>
<line x1="333.5" y1="869.5" x2="353" y2="869.5" stroke="#363636" stroke-width="1"/>
<line x1="333.5" y1="875.5" x2="353" y2="875.5" stroke="#363636" stroke-width="1"/>
<line x1="338.5" y1="853" x2="338.5" y2="890.3" stroke="#363636" stroke-width="1"/>
<path d="M338.7 869.4L337.35 861.4L340.05 861.4Z" fill="#363636"/>
<path d="M338.7 875.1L340.05 883.1L337.35 883.1Z" fill="#363636"/>
<text x="0" y="4.01" font-size="11.2" text-anchor="middle" fill="#4a4a4a" transform="translate(330.7 858.7) rotate(-90) scale(1.09 1.045)">3</text>
<text x="606.5" y="686.85" font-size="12.7" text-anchor="start" fill="#1f4fa0">JYBK17-37</text>
<line x1="606.5" y1="693.5" x2="810.3" y2="693.5" stroke="#3a3a3a" stroke-width="1.3" stroke-dasharray="1.05 1.45"/>
<line x1="635.2" y1="775.5" x2="738.5" y2="775.5" stroke="#6a6a6a" stroke-width="0.8" stroke-dasharray="13 4"/>
<line x1="708.5" y1="742.5" x2="708.5" y2="822.9" stroke="#6a6a6a" stroke-width="0.8" stroke-dasharray="14 3.5"/>
<path d="M655.25 760.47L705.12 752.95A22.7 22.7 0 1 1 705.12 797.85L655.25 790.33A15.1 15.1 0 0 1 655.25 760.47Z" fill="none" stroke="#363636" stroke-width="1"/>
<path d="M721.5 775.5L717.5 779.5L717.5 784.5L712.5 784.5L708.5 788.5L704.5 784.5L699.5 784.5L699.5 779.5L695.5 775.5L699.5 771.5L699.5 766.5L704.5 766.5L708.5 762.5L712.5 766.5L717.5 766.5L717.5 771.5Z" fill="none" stroke="#363636" stroke-width="1.2" stroke-linejoin="miter"/>
<path d="M703 766H699V770M703 785H699V781" fill="none" stroke="#363636" stroke-width="2" stroke-linejoin="miter"/>
<line x1="718.4" y1="765.5" x2="761.7" y2="765.5" stroke="#363636" stroke-width="1"/>
<line x1="718.4" y1="784.5" x2="761.7" y2="784.5" stroke="#363636" stroke-width="1"/>
<line x1="755.5" y1="732" x2="755.5" y2="798.7" stroke="#363636" stroke-width="1"/>
<path d="M755.5 765.4L754.15 757.4L756.85 757.4Z" fill="#363636"/>
<path d="M755.5 784.5L756.85 792.5L754.15 792.5Z" fill="#363636"/>
<g transform="translate(747.7 746) rotate(-90)"><rect x="-11.6" y="-4.2" width="8" height="8.5" rx="0.8" fill="none" stroke="#6a6a6a" stroke-width="0.9"/><text x="0" y="4.01" font-size="11.2" text-anchor="middle" fill="#4a4a4a" transform="translate(5.9 0) scale(1.09 1.045)">10</text></g>
<text x="738.5" y="718.41" font-size="11.2" text-anchor="start" fill="#4a4a4a">R12</text>
<line x1="736.5" y1="721.5" x2="759.2" y2="721.5" stroke="#363636" stroke-width="1"/>
<line x1="736.5" y1="721.3" x2="708.5" y2="775.4" stroke="#363636" stroke-width="1"/>
<path d="M718.93 755.24L720.95 748.4L723.35 749.64Z" fill="#363636"/>
<text x="619.4" y="752.81" font-size="11.2" text-anchor="start" fill="#4a4a4a">R8</text>
<line x1="619.4" y1="755.5" x2="632.3" y2="755.5" stroke="#363636" stroke-width="1"/>
<line x1="632.3" y1="755.4" x2="657.5" y2="775.4" stroke="#363636" stroke-width="1"/>
<path d="M645.67 766.01L639.35 762.72L641.03 760.6Z" fill="#363636"/>
<line x1="642.5" y1="775.4" x2="642.5" y2="840" stroke="#363636" stroke-width="1"/>
<line x1="731.5" y1="775.4" x2="731.5" y2="840" stroke="#363636" stroke-width="1"/>
<line x1="642.4" y1="816.5" x2="708.5" y2="816.5" stroke="#363636" stroke-width="1"/>
<path d="M642.4 816.3L650.4 814.95L650.4 817.65Z" fill="#363636"/>
<path d="M708.5 816.3L700.5 817.65L700.5 814.95Z" fill="#363636"/>
<text x="675.4" y="812.61" font-size="11.2" text-anchor="middle" fill="#4a4a4a">40</text>
<line x1="642.4" y1="834.5" x2="731.2" y2="834.5" stroke="#363636" stroke-width="1"/>
<path d="M642.4 834.3L650.4 832.95L650.4 835.65Z" fill="#363636"/>
<path d="M731.2 834.3L723.2 835.65L723.2 832.95Z" fill="#363636"/>
<text x="686.8" y="831.21" font-size="11.2" text-anchor="middle" fill="#4a4a4a">52</text>
<rect x="641.5" y="868.5" width="90" height="6" fill="none" stroke="#363636" stroke-width="1"/>
<line x1="621.4" y1="868.5" x2="641.5" y2="868.5" stroke="#363636" stroke-width="1"/>
<line x1="621.4" y1="874.5" x2="641.5" y2="874.5" stroke="#363636" stroke-width="1"/>
<line x1="627.5" y1="853" x2="627.5" y2="889.5" stroke="#363636" stroke-width="1"/>
<path d="M627.4 868.2L626.05 860.2L628.75 860.2Z" fill="#363636"/>
<path d="M627.4 874.5L628.75 882.5L626.05 882.5Z" fill="#363636"/>
<text x="0" y="4.01" font-size="11.2" text-anchor="middle" fill="#4a4a4a" transform="translate(620.3 857.3) rotate(-90) scale(1.09 1.045)">3</text>
<text x="55.7" y="1015.15" font-size="12.7" text-anchor="start" fill="#1f4fa0">JYBK17-38</text>
<line x1="55.7" y1="1020.5" x2="232" y2="1020.5" stroke="#3a3a3a" stroke-width="1.3" stroke-dasharray="1.05 1.45"/>
<line x1="77.4" y1="1099.5" x2="197.9" y2="1099.5" stroke="#6a6a6a" stroke-width="0.8" stroke-dasharray="13 4"/>
<line x1="168" y1="1067" x2="168" y2="1131.6" stroke="#b8b8b8" stroke-width="1.5" stroke-dasharray="11 3.5"/>
<line x1="167.5" y1="1132.6" x2="167.5" y2="1146.6" stroke="#363636" stroke-width="1"/>
<path d="M97.67 1084.7L165.24 1076.76A22.8 22.8 0 1 1 165.24 1122.04L97.67 1114.1A14.8 14.8 0 0 1 97.67 1084.7Z" fill="none" stroke="#363636" stroke-width="1"/>
<path d="M181.5 1099.5L177.5 1103.5L177.5 1109.5L171.5 1109.5L167.5 1113.5L163.5 1109.5L158.5 1109.5L158.5 1103.5L154.5 1099.5L158.5 1095.5L158.5 1089.5L163.5 1089.5L167.5 1085.5L171.5 1089.5L177.5 1089.5L177.5 1095.5Z" fill="none" stroke="#363636" stroke-width="1.2" stroke-linejoin="miter"/>
<path d="M162 1090H158V1094M162 1109H158V1105M174 1090H178V1094M174 1109H178V1105" fill="none" stroke="#363636" stroke-width="2" stroke-linejoin="miter"/>
<line x1="179.3" y1="1089.5" x2="221.6" y2="1089.5" stroke="#363636" stroke-width="1"/>
<line x1="179.3" y1="1108.5" x2="221.6" y2="1108.5" stroke="#363636" stroke-width="1"/>
<line x1="215.5" y1="1057.2" x2="215.5" y2="1122.8" stroke="#363636" stroke-width="1"/>
<path d="M215.6 1089.4L214.25 1081.4L216.95 1081.4Z" fill="#363636"/>
<path d="M215.6 1108.6L216.95 1116.6L214.25 1116.6Z" fill="#363636"/>
<g transform="translate(207.8 1071) rotate(-90)"><rect x="-11.6" y="-4.2" width="8" height="8.5" rx="0.8" fill="none" stroke="#6a6a6a" stroke-width="0.9"/><text x="0" y="4.01" font-size="11.2" text-anchor="middle" fill="#4a4a4a" transform="translate(5.9 0) scale(1.09 1.045)">10</text></g>
<text x="197.9" y="1042.61" font-size="11.2" text-anchor="start" fill="#4a4a4a">R12</text>
<line x1="196.1" y1="1046.5" x2="218.1" y2="1046.5" stroke="#363636" stroke-width="1"/>
<line x1="196.1" y1="1046" x2="167.9" y2="1099.4" stroke="#363636" stroke-width="1"/>
<path d="M178.55 1079.24L180.62 1072.42L183.01 1073.68Z" fill="#363636"/>
<text x="62.2" y="1077.31" font-size="11.2" text-anchor="start" fill="#4a4a4a">R8</text>
<line x1="62.2" y1="1079.5" x2="75.4" y2="1079.5" stroke="#363636" stroke-width="1"/>
<line x1="75.4" y1="1079.6" x2="99.4" y2="1099.4" stroke="#363636" stroke-width="1"/>
<path d="M87.98 1089.98L81.72 1086.57L83.44 1084.49Z" fill="#363636"/>
<line x1="84.5" y1="1099.4" x2="84.5" y2="1165.4" stroke="#363636" stroke-width="1"/>
<line x1="190.5" y1="1099.4" x2="190.5" y2="1165.4" stroke="#363636" stroke-width="1"/>
<line x1="84.7" y1="1140.5" x2="167.9" y2="1140.5" stroke="#363636" stroke-width="1"/>
<path d="M84.7 1140.2L92.7 1138.85L92.7 1141.55Z" fill="#363636"/>
<path d="M167.9 1140.2L159.9 1141.55L159.9 1138.85Z" fill="#363636"/>
<text x="125.9" y="1136.61" font-size="11.2" text-anchor="middle" fill="#4a4a4a">50</text>
<line x1="84.7" y1="1159.5" x2="190.9" y2="1159.5" stroke="#363636" stroke-width="1"/>
<path d="M84.7 1159.6L92.7 1158.25L92.7 1160.95Z" fill="#363636"/>
<path d="M190.9 1159.6L182.9 1160.95L182.9 1158.25Z" fill="#363636"/>
<text x="137.2" y="1156.01" font-size="11.2" text-anchor="middle" fill="#4a4a4a">62</text>
<rect x="85.5" y="1191.5" width="105" height="5" fill="none" stroke="#363636" stroke-width="1"/>
<line x1="64.5" y1="1191.5" x2="85" y2="1191.5" stroke="#363636" stroke-width="1"/>
<line x1="64.5" y1="1196.5" x2="85" y2="1196.5" stroke="#363636" stroke-width="1"/>
<line x1="70.5" y1="1175" x2="70.5" y2="1212.2" stroke="#363636" stroke-width="1"/>
<path d="M70.3 1191.2L68.95 1183.2L71.65 1183.2Z" fill="#363636"/>
<path d="M70.3 1196.6L71.65 1204.6L68.95 1204.6Z" fill="#363636"/>
<text x="0" y="4.01" font-size="11.2" text-anchor="middle" fill="#4a4a4a" transform="translate(62.7 1180) rotate(-90) scale(1.09 1.045)">3</text>
<text x="318.3" y="962.25" font-size="12.7" text-anchor="start" fill="#1f4fa0">JYBK17-39</text>
<line x1="318.3" y1="968.5" x2="494.4" y2="968.5" stroke="#3a3a3a" stroke-width="1.3" stroke-dasharray="1.05 1.45"/>
<line x1="353.4" y1="1055.5" x2="446.4" y2="1055.5" stroke="#6a6a6a" stroke-width="0.8" stroke-dasharray="13 4"/>
<line x1="416.5" y1="1023.4" x2="416.5" y2="1098.6" stroke="#6a6a6a" stroke-width="0.8" stroke-dasharray="14 3.5"/>
<path d="M373.14 1040.07L412.46 1032.69A23 23 0 1 1 412.46 1077.91L373.14 1070.53A15.5 15.5 0 0 1 373.14 1040.07Z" fill="none" stroke="#363636" stroke-width="1"/>
<path d="M430.5 1055.5L426.5 1059.5L426.5 1064.5L420.5 1064.5L416.5 1068.5L412.5 1064.5L407.5 1064.5L407.5 1059.5L403.5 1055.5L407.5 1051.5L407.5 1045.5L412.5 1045.5L416.5 1041.5L420.5 1045.5L426.5 1045.5L426.5 1051.5Z" fill="none" stroke="#363636" stroke-width="1.2" stroke-linejoin="miter"/>
<line x1="391" y1="1037.3" x2="391" y2="1072.7" stroke="#363636" stroke-width="1.8"/>
<line x1="426.2" y1="1045.5" x2="470.9" y2="1045.5" stroke="#363636" stroke-width="1"/>
<line x1="426.2" y1="1064.5" x2="470.9" y2="1064.5" stroke="#363636" stroke-width="1"/>
<line x1="426" y1="1045.4" x2="426" y2="1051.2" stroke="#363636" stroke-width="1.8"/>
<line x1="426" y1="1059.9" x2="426" y2="1064.7" stroke="#363636" stroke-width="1.8"/>
<line x1="464.5" y1="1013.3" x2="464.5" y2="1080.9" stroke="#363636" stroke-width="1"/>
<path d="M464.5 1045.4L463.15 1037.4L465.85 1037.4Z" fill="#363636"/>
<path d="M464.5 1064.7L465.85 1072.7L463.15 1072.7Z" fill="#363636"/>
<g transform="translate(456.4 1026.9) rotate(-90)"><rect x="-11.6" y="-4.2" width="8" height="8.5" rx="0.8" fill="none" stroke="#6a6a6a" stroke-width="0.9"/><text x="0" y="4.01" font-size="11.2" text-anchor="middle" fill="#4a4a4a" transform="translate(5.9 0) scale(1.09 1.045)">10</text></g>
<text x="445.6" y="1000.11" font-size="11.2" text-anchor="start" fill="#4a4a4a">R12</text>
<line x1="443.9" y1="1002.5" x2="465.8" y2="1002.5" stroke="#363636" stroke-width="1"/>
<line x1="443.9" y1="1002.4" x2="416.7" y2="1055.3" stroke="#363636" stroke-width="1"/>
<path d="M427.22 1034.85L429.22 1028L431.62 1029.24Z" fill="#363636"/>
<text x="338.3" y="1033.21" font-size="11.2" text-anchor="start" fill="#4a4a4a">R8</text>
<line x1="338.3" y1="1035.5" x2="351.7" y2="1035.5" stroke="#363636" stroke-width="1"/>
<line x1="351.7" y1="1035.5" x2="376" y2="1055.3" stroke="#363636" stroke-width="1"/>
<path d="M363.98 1045.51L357.7 1042.13L359.41 1040.04Z" fill="#363636"/>
<line x1="360.5" y1="1055.3" x2="360.5" y2="1113.8" stroke="#363636" stroke-width="1"/>
<line x1="439.5" y1="1055.3" x2="439.5" y2="1113.8" stroke="#363636" stroke-width="1"/>
<line x1="360.5" y1="1092.5" x2="416.7" y2="1092.5" stroke="#363636" stroke-width="1"/>
<path d="M360.5 1092.3L368.5 1090.95L368.5 1093.65Z" fill="#363636"/>
<path d="M416.7 1092.3L408.7 1093.65L408.7 1090.95Z" fill="#363636"/>
<text x="388.3" y="1090.01" font-size="11.2" text-anchor="middle" fill="#4a4a4a">34</text>
<line x1="360.5" y1="1108.5" x2="439.6" y2="1108.5" stroke="#363636" stroke-width="1"/>
<path d="M360.5 1108L368.5 1106.65L368.5 1109.35Z" fill="#363636"/>
<path d="M439.6 1108L431.6 1109.35L431.6 1106.65Z" fill="#363636"/>
<text x="399.7" y="1106.21" font-size="11.2" text-anchor="middle" fill="#4a4a4a">46</text>
<path d="M439.5 1141.5H396Q390.5 1141.5 390.5 1147V1158.5H360.5V1164.5H391Q395.5 1164.5 395.5 1160V1150.5Q395.5 1147.5 398.5 1147.5H439.5Z" fill="none" stroke="#363636" stroke-width="1.1"/>
<line x1="391" y1="1146.5" x2="391" y2="1158.5" stroke="#363636" stroke-width="1.8"/>
<line x1="396" y1="1150" x2="396" y2="1160.5" stroke="#363636" stroke-width="1.8"/>
<line x1="361" y1="1158.5" x2="361" y2="1164.5" stroke="#363636" stroke-width="1.7"/>
<line x1="416.5" y1="1130.7" x2="416.5" y2="1157.2" stroke="#6a6a6a" stroke-width="0.8" stroke-dasharray="9 3"/>
<line x1="369.4" y1="1141.5" x2="394" y2="1141.5" stroke="#363636" stroke-width="1"/>
<line x1="374.5" y1="1127.4" x2="374.5" y2="1172.4" stroke="#363636" stroke-width="1"/>
<path d="M374.9 1141.5L373.55 1133.5L376.25 1133.5Z" fill="#363636"/>
<path d="M374.9 1160.8L376.25 1168.8L373.55 1168.8Z" fill="#363636"/>
<text x="0" y="4.01" font-size="11.2" text-anchor="middle" fill="#4a4a4a" transform="translate(367.6 1149.6) rotate(-90) scale(1.09 1.045)">9</text>
<line x1="344.1" y1="1158.5" x2="360.5" y2="1158.5" stroke="#363636" stroke-width="1"/>
<line x1="344.1" y1="1164.5" x2="360.5" y2="1164.5" stroke="#363636" stroke-width="1"/>
<line x1="349.5" y1="1144.6" x2="349.5" y2="1178.7" stroke="#363636" stroke-width="1"/>
<path d="M349.7 1158.5L348.35 1150.5L351.05 1150.5Z" fill="#363636"/>
<path d="M349.7 1164L351.05 1172L348.35 1172Z" fill="#363636"/>
<text x="0" y="4.01" font-size="11.2" text-anchor="middle" fill="#4a4a4a" transform="translate(339.8 1161.8) rotate(-90) scale(1.09 1.045)">3</text>
<line x1="390.5" y1="1164" x2="390.5" y2="1186.3" stroke="#363636" stroke-width="1"/>
<line x1="360.5" y1="1164" x2="360.5" y2="1203.5" stroke="#363636" stroke-width="1"/>
<line x1="439.5" y1="1147" x2="439.5" y2="1203.5" stroke="#363636" stroke-width="1"/>
<line x1="390.8" y1="1180.5" x2="439.6" y2="1180.5" stroke="#363636" stroke-width="1"/>
<path d="M390.8 1180.7L398.8 1179.35L398.8 1182.05Z" fill="#363636"/>
<path d="M439.6 1180.7L431.6 1182.05L431.6 1179.35Z" fill="#363636"/>
<text x="414.8" y="1176.91" font-size="11.2" text-anchor="middle" fill="#4a4a4a">28</text>
<line x1="360.5" y1="1198.5" x2="439.6" y2="1198.5" stroke="#363636" stroke-width="1"/>
<path d="M360.5 1198.9L368.5 1197.55L368.5 1200.25Z" fill="#363636"/>
<path d="M439.6 1198.9L431.6 1200.25L431.6 1197.55Z" fill="#363636"/>
<text x="400.9" y="1196.61" font-size="11.2" text-anchor="middle" fill="#4a4a4a">46</text>
<text x="580.6" y="961.65" font-size="12.7" text-anchor="start" fill="#1f4fa0">JYBK17-40</text>
<line x1="580.6" y1="968.5" x2="822.3" y2="968.5" stroke="#3a3a3a" stroke-width="1.3" stroke-dasharray="1.05 1.45"/>
<line x1="602.1" y1="1044" x2="787.6" y2="1044" stroke="#c2c2c2" stroke-width="1.6" stroke-dasharray="11 3.5"/>
<line x1="758.5" y1="985.7" x2="758.5" y2="1101" stroke="#6a6a6a" stroke-width="0.8" stroke-dasharray="13 4"/>
<line x1="758.5" y1="1101" x2="758.5" y2="1110" stroke="#363636" stroke-width="1"/>
<path d="M631.3 1025.2L727 1022.1C737 1021.8 743.5 1014 744.1 1003.5A14.4 14.4 0 0 1 769.5 993.6C776 1006 781.3 1026 781.3 1043.8C781.3 1061.6 776 1081.6 769.5 1094A14.4 14.4 0 0 1 744.1 1084.1C743.5 1073.6 737 1065.8 727 1065.5L631.3 1062.4A18.6 18.6 0 0 1 631.3 1025.2Z" fill="none" stroke="#363636" stroke-width="1"/>
<path d="M614 1040.6H676.1A3.2 3.2 0 0 1 676.1 1047H614" fill="none" stroke="#363636" stroke-width="1"/>
<path d="M770.5 1043.5L767.5 1047.5L767.5 1052.5L762.5 1052.5L758.5 1056.5L754.5 1052.5L749.5 1052.5L749.5 1047.5L746.5 1043.5L749.5 1040.5L749.5 1035.5L754.5 1035.5L758.5 1031.5L762.5 1035.5L767.5 1035.5L767.5 1040.5Z" fill="none" stroke="#363636" stroke-width="1.2" stroke-linejoin="miter"/>
<path d="M753 1035H750V1039M753 1052H750V1049M764 1035H767V1039M764 1052H767V1049" fill="none" stroke="#363636" stroke-width="2" stroke-linejoin="miter"/>
<circle cx="758.5" cy="1002.5" r="5.5" fill="none" stroke="#363636" stroke-width="1.6"/>
<line x1="747.5" y1="1002.5" x2="770.5" y2="1002.5" stroke="#666" stroke-width="0.8" stroke-dasharray="9 3"/>
<circle cx="758.5" cy="1085.2" r="5.5" fill="none" stroke="#363636" stroke-width="1.6"/>
<line x1="747.5" y1="1085.5" x2="770.5" y2="1085.5" stroke="#666" stroke-width="0.8" stroke-dasharray="9 3"/>
<line x1="715.2" y1="1035.5" x2="748.4" y2="1035.5" stroke="#363636" stroke-width="1"/>
<line x1="715.2" y1="1052.5" x2="748.4" y2="1052.5" stroke="#363636" stroke-width="1"/>
<line x1="721.5" y1="999.3" x2="721.5" y2="1067.6" stroke="#363636" stroke-width="1"/>
<path d="M721.4 1035.3L720.05 1027.3L722.75 1027.3Z" fill="#363636"/>
<path d="M721.4 1052.4L722.75 1060.4L720.05 1060.4Z" fill="#363636"/>
<g transform="translate(713.2 1008) rotate(-90)"><rect x="-11.6" y="-4.2" width="9" height="8.5" rx="0.8" fill="none" stroke="#6a6a6a" stroke-width="0.9"/><text x="0" y="4.01" font-size="11.2" text-anchor="middle" fill="#4a4a4a" transform="translate(5.9 0) scale(1.09 1.045)">10</text></g>
<text x="583.5" y="1021.11" font-size="11.2" text-anchor="start" fill="#4a4a4a">R11</text>
<line x1="583.5" y1="1024.5" x2="603.1" y2="1024.5" stroke="#363636" stroke-width="1"/>
<line x1="603.1" y1="1024.5" x2="631.3" y2="1043.8" stroke="#363636" stroke-width="1"/>
<path d="M615.99 1033.32L609.45 1030.48L610.98 1028.26Z" fill="#363636"/>
<line x1="773" y1="1002.5" x2="813.8" y2="1002.5" stroke="#363636" stroke-width="1"/>
<line x1="773" y1="1085.5" x2="813.8" y2="1085.5" stroke="#363636" stroke-width="1"/>
<line x1="807.5" y1="1002.5" x2="807.5" y2="1085.2" stroke="#363636" stroke-width="1"/>
<path d="M807.8 1002.5L809.15 1010.5L806.45 1010.5Z" fill="#363636"/>
<path d="M807.8 1085.2L806.45 1077.2L809.15 1077.2Z" fill="#363636"/>
<text x="0" y="4.01" font-size="11.2" text-anchor="middle" fill="#4a4a4a" transform="translate(799.6 1043.8) rotate(-90) scale(1.09 1.045)">50</text>
<line x1="612.5" y1="1043.8" x2="612.5" y2="1129" stroke="#363636" stroke-width="1"/>
<line x1="780.5" y1="1043.8" x2="780.5" y2="1129" stroke="#363636" stroke-width="1"/>
<line x1="612.8" y1="1107.5" x2="758.5" y2="1107.5" stroke="#363636" stroke-width="1"/>
<path d="M612.8 1107.1L620.8 1105.75L620.8 1108.45Z" fill="#363636"/>
<path d="M758.5 1107.1L750.5 1108.45L750.5 1105.75Z" fill="#363636"/>
<text x="685.1" y="1104.71" font-size="11.2" text-anchor="middle" fill="#4a4a4a">88</text>
<line x1="612.8" y1="1123.5" x2="780.5" y2="1123.5" stroke="#363636" stroke-width="1"/>
<path d="M612.8 1123.9L620.8 1122.55L620.8 1125.25Z" fill="#363636"/>
<path d="M780.5 1123.9L772.5 1125.25L772.5 1122.55Z" fill="#363636"/>
<text x="696.3" y="1120.81" font-size="11.2" text-anchor="middle" fill="#4a4a4a">102</text>
<path d="M612.8 1159.2H676.5Q679.3 1159.2 679.3 1163.2" fill="none" stroke="#363636" stroke-width="1.1"/>
<line x1="612.5" y1="1159.2" x2="612.5" y2="1167.5" stroke="#363636" stroke-width="1.1"/>
<line x1="612.8" y1="1163.5" x2="818.5" y2="1163.5" stroke="#363636" stroke-width="1"/>
<line x1="612.8" y1="1167.5" x2="799.6" y2="1167.5" stroke="#363636" stroke-width="1"/>
<line x1="781" y1="1163.3" x2="781" y2="1167.6" stroke="#363636" stroke-width="1.6"/>
<line x1="753.8" y1="1162" x2="762.9" y2="1162" stroke="#363636" stroke-width="1.6"/>
<rect x="749.5" y="1167.5" width="18" height="3" fill="none" stroke="#363636" stroke-width="1"/>
<line x1="752" y1="1170.1" x2="752" y2="1180.5" stroke="#363636" stroke-width="1.7"/>
<line x1="764" y1="1170.1" x2="764" y2="1180.5" stroke="#363636" stroke-width="1.7"/>
<rect x="744.5" y="1180.5" width="28" height="2" fill="none" stroke="#363636" stroke-width="1"/>
<line x1="758.5" y1="1147.6" x2="758.5" y2="1191.2" stroke="#666" stroke-width="0.8"/>
<line x1="595.7" y1="1159.5" x2="612.8" y2="1159.5" stroke="#363636" stroke-width="1"/>
<line x1="595.7" y1="1167.5" x2="612.8" y2="1167.5" stroke="#363636" stroke-width="1"/>
<line x1="601.5" y1="1143.1" x2="601.5" y2="1181.1" stroke="#363636" stroke-width="1"/>
<path d="M601.5 1159.2L600.15 1151.2L602.85 1151.2Z" fill="#363636"/>
<path d="M601.5 1167.6L602.85 1175.6L600.15 1175.6Z" fill="#363636"/>
<text x="0" y="4.01" font-size="11.2" text-anchor="middle" fill="#4a4a4a" transform="translate(591.9 1162.8) rotate(-90) scale(1.09 1.045)">5</text>
<line x1="794.5" y1="1147.6" x2="794.5" y2="1163.3" stroke="#363636" stroke-width="1"/>
<line x1="794.5" y1="1167.6" x2="794.5" y2="1181.7" stroke="#363636" stroke-width="1"/>
<path d="M794.3 1163.3L792.95 1155.3L795.65 1155.3Z" fill="#363636"/>
<path d="M794.3 1167.6L795.65 1175.6L792.95 1175.6Z" fill="#363636"/>
<text x="0" y="4.01" font-size="11.2" text-anchor="middle" fill="#4a4a4a" transform="translate(787.6 1152.8) rotate(-90) scale(1.09 1.045)">3</text>
<line x1="772.4" y1="1183.5" x2="818.5" y2="1183.5" stroke="#363636" stroke-width="1"/>
<line x1="813.5" y1="1146.1" x2="813.5" y2="1197.5" stroke="#363636" stroke-width="1"/>
<path d="M813.5 1163.3L812.15 1155.3L814.85 1155.3Z" fill="#363636"/>
<path d="M813.5 1183.2L814.85 1191.2L812.15 1191.2Z" fill="#363636"/>
<text x="0" y="4.01" font-size="11.2" text-anchor="middle" fill="#4a4a4a" transform="translate(805.6 1170.8) rotate(-90) scale(1.09 1.045)">13</text>
<line x1="752.5" y1="1183" x2="752.5" y2="1207.6" stroke="#363636" stroke-width="1"/>
<line x1="764.5" y1="1183" x2="764.5" y2="1207.6" stroke="#363636" stroke-width="1"/>
<line x1="729.5" y1="1201.5" x2="752.2" y2="1201.5" stroke="#363636" stroke-width="1"/>
<path d="M752.2 1201.1L744.2 1202.45L744.2 1199.75Z" fill="#363636"/>
<line x1="764.5" y1="1201.5" x2="777.8" y2="1201.5" stroke="#363636" stroke-width="1"/>
<path d="M764.5 1201.1L772.5 1199.75L772.5 1202.45Z" fill="#363636"/>
<text x="737.8" y="1198.41" font-size="11.2" text-anchor="middle" fill="#4a4a4a">Ø6</text>
<g opacity="0.10" style="mix-blend-mode:multiply">
<use href="#wm" transform="translate(-252.9 22.6)"/>
<use href="#wm" transform="translate(-4.65 22.6)"/>
<use href="#wm" transform="translate(243.6 22.6)"/>
<use href="#wm" transform="translate(491.85 22.6)"/>
<use href="#wm" transform="translate(740.1 22.6)"/>
<use href="#wm" transform="translate(-252.9 251.8)"/>
<use href="#wm" transform="translate(-4.65 251.8)"/>
<use href="#wm" transform="translate(243.6 251.8)"/>
<use href="#wm" transform="translate(491.85 251.8)"/>
<use href="#wm" transform="translate(740.1 251.8)"/>
<use href="#wm" transform="translate(-252.9 481)"/>
<use href="#wm" transform="translate(-4.65 481)"/>
<use href="#wm" transform="translate(243.6 481)"/>
<use href="#wm" transform="translate(491.85 481)"/>
<use href="#wm" transform="translate(740.1 481)"/>
<use href="#wm" transform="translate(-252.9 710.2)"/>
<use href="#wm" transform="translate(-4.65 710.2)"/>
<use href="#wm" transform="translate(243.6 710.2)"/>
<use href="#wm" transform="translate(491.85 710.2)"/>
<use href="#wm" transform="translate(740.1 710.2)"/>
<use href="#wm" transform="translate(-252.9 939.4)"/>
<use href="#wm" transform="translate(-4.65 939.4)"/>
<use href="#wm" transform="translate(243.6 939.4)"/>
<use href="#wm" transform="translate(491.85 939.4)"/>
<use href="#wm" transform="translate(740.1 939.4)"/>
<use href="#wm" transform="translate(-252.9 1168.6)"/>
<use href="#wm" transform="translate(-4.65 1168.6)"/>
<use href="#wm" transform="translate(243.6 1168.6)"/>
<use href="#wm" transform="translate(491.85 1168.6)"/>
<use href="#wm" transform="translate(740.1 1168.6)"/>
<use href="#wm" transform="translate(-252.9 1397.8)"/>
<use href="#wm" transform="translate(-4.65 1397.8)"/>
<use href="#wm" transform="translate(243.6 1397.8)"/>
<use href="#wm" transform="translate(491.85 1397.8)"/>
<use href="#wm" transform="translate(740.1 1397.8)"/>
</g>
</svg>
</body></html>
